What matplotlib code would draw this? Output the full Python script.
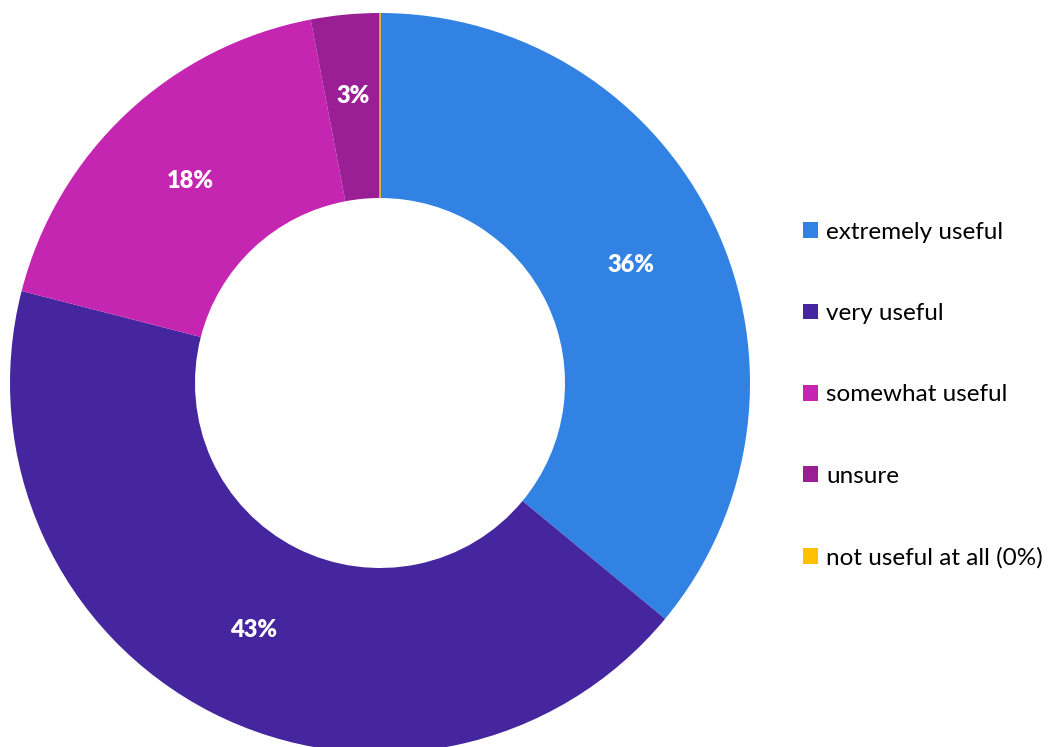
import matplotlib.pyplot as plt
import numpy as np
from matplotlib.patches import Patch

plt.rcParams['font.family'] = ['Lato', 'DejaVu Sans']

# Respostas da pesquisa
categorias = ['extremely useful', 'very useful', 'somewhat useful', 'unsure', 'not useful at all (0%)']
percentuais = [36, 43, 18, 3, 0]
rotulos = ['36%', '43%', '18%', '3%', '']
cores = ['#3282E3', '#45269E', '#C526B1', '#9A1E94', '#FFC000']

W, H = 1058, 747
fig = plt.figure(figsize=(W / 100, H / 100), dpi=100)
ax = fig.add_axes([0, 0, 1, 1])

raio = 370
centro = (380, H - 383)

fatias, textos = ax.pie(
    percentuais, colors=cores, startangle=90, counterclock=False,
    center=centro, radius=raio,
    wedgeprops=dict(width=raio * 0.5, linewidth=0),
)

# rótulos no meio do anel
r_meio = raio * 0.75
for f, txt in zip(fatias, rotulos):
    if not txt:
        continue
    ang = np.deg2rad((f.theta1 + f.theta2) / 2)
    r = r_meio * 1.04 if txt == '3%' else r_meio
    ax.text(centro[0] + r * np.cos(ang), centro[1] + r * np.sin(ang), txt,
            ha='center', va='center', color='white', fontsize=17, fontweight='heavy')

# fatia de 0% aparece só como uma linha
fatias[-1].set_edgecolor(cores[-1])
fatias[-1].set_linewidth(1.2)

ax.set_xlim(0, W)
ax.set_ylim(0, H)
ax.set_aspect('equal')
ax.axis('off')

alcas = [Patch(facecolor=c, edgecolor='none') for c in cores]
ax.legend(alcas, categorias, loc='center left', bbox_to_anchor=(803 / W, 1 - 395 / H),
          bbox_transform=fig.transFigure, frameon=False, fontsize=17.5,
          handlelength=0.62, handleheight=0.62, handletextpad=0.33,
          labelspacing=2.48, borderpad=0, borderaxespad=0)

fig.savefig('out.png', dpi=100)
